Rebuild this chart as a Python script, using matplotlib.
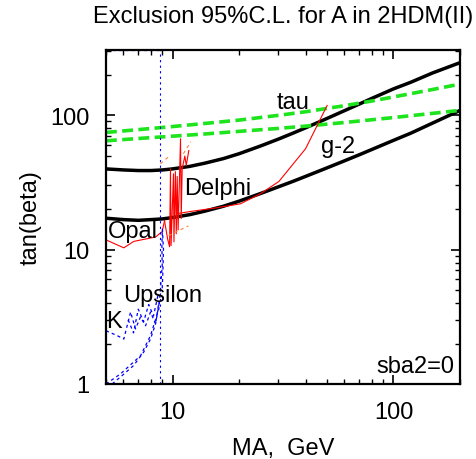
import matplotlib
matplotlib.use("Agg")
import matplotlib.pyplot as plt

plt.rcParams['font.family'] = ['Liberation Sans', 'DejaVu Sans']

# black limit curves
upper_x = [5, 6, 7, 8, 9, 10, 12, 14, 17, 20, 25, 30, 35, 40, 50, 60, 70, 80, 100, 120, 150, 200]
upper_y = [39.8, 39.1, 38.7, 38.7, 39.1, 39.8, 41.6, 43.9, 47.5, 51.6, 58.9, 66.1, 73.3, 80.4,
           94.4, 107.9, 120.8, 133.4, 156.7, 175.8, 205.6, 245.5]
lower_x = [5, 6, 7, 8, 9, 10, 12, 14, 17, 20, 25, 30, 35, 40, 50, 60, 70, 80, 100, 120, 150, 200]
lower_y = [17.1, 16.7, 16.5, 16.7, 16.9, 17.3, 18.2, 19.3, 21.0, 22.9, 26.1, 29.2, 32.1, 35.0,
           40.5, 45.7, 50.7, 55.6, 64.9, 73.5, 87.1, 108.4]

# green dashed (tau, g-2)
tau_x = [5, 7, 10, 14, 20, 30, 40, 60, 80, 100, 150, 200]
tau_y = [74.3, 78, 82.2, 86.7, 91.8, 99.5, 105.9, 117.5, 127.4, 136.5, 155, 170]
g2_x = [5, 7, 10, 14, 20, 30, 40, 60, 100, 150, 200]
g2_y = [64.4, 67, 69.7, 72.4, 75.7, 79.6, 82.8, 88.1, 95.9, 103, 108.4]

# Opal / Delphi (red)
opal_x = [5.06, 6.02, 6.68, 8.38, 8.98, 9.2]
opal_y = [11.7, 10.3, 11.5, 12.4, 13.6, 16.4]
spike_x = [9.2, 9.5, 9.7, 9.79, 9.85, 10.1, 10.15, 10.3, 10.4, 10.5, 10.6, 10.87, 10.95,
           11.06, 11.37, 11.54, 11.85]
spike_y = [16.4, 12.0, 10.5, 39.9, 10.7, 36.6, 11.4, 38, 13.1, 35, 14, 66.7, 17,
           40, 49.6, 42.3, 54.5]
delphi_x = [10.5, 12.06, 16, 20.3, 25, 30.3, 40, 50.1]
delphi_y = [18.5, 19.2, 20.5, 21.9, 26, 32.1, 56.2, 118]
orange1_x = [8.82, 9.6]
orange1_y = [43.5, 49]
orange2_x = [11.2, 12.1]
orange2_y = [51.6, 63.4]
orange3_x = [9.6, 11.8]
orange3_y = [12.7, 15.0]

# Upsilon / K (blue)
ups_a_x = [5.0, 5.82, 7.16, 7.95, 8.67, 8.82, 8.98, 8.95, 9.0, 9.1, 9.05, 8.98]
ups_a_y = [1.0, 1.19, 1.62, 2.29, 3.61, 5.09, 7.59, 11, 14.2, 10, 7, 5]
ups_b_x = [5.33, 5.82, 6.66, 7.41, 7.95, 8.38, 8.7]
ups_b_y = [1.0, 1.13, 1.37, 1.73, 2.16, 2.8, 4.0]
k1_x = [5.0, 5.62, 6.02, 6.46, 6.8, 7.16, 7.55, 7.95, 8.38, 8.67]
k1_y = [2.49, 2.29, 2.16, 3.43, 2.57, 3.15, 2.71, 3.43, 2.79, 4.07]
k2_x = [6.3, 6.66, 7.0, 7.4, 7.8, 8.2, 8.6]
k2_y = [3.0, 2.4, 3.6, 2.9, 3.9, 3.2, 4.6]
vline_x = 8.76
top_x = [5, 8.76]

fig = plt.figure(figsize=(4.77, 4.6), dpi=100)
ax = fig.add_axes([106/477, 75/460, 354/477, 334/460])
ax.set_xscale('log')
ax.set_yscale('log')
ax.set_xlim(5, 200)
ax.set_ylim(1, 305)

green = '#1de41d'
blue_dash = (0, (2.5, 2.5))
ax.plot(upper_x, upper_y, color='black', lw=2.5)
ax.plot(lower_x, lower_y, color='black', lw=2.5)
ax.plot(tau_x, tau_y, color=green, lw=2.6, dashes=(3, 1.5))
ax.plot(g2_x, g2_y, color=green, lw=2.6, dashes=(3, 1.5))

ax.plot(opal_x, opal_y, color='red', lw=0.8)
ax.plot(spike_x, spike_y, color='red', lw=0.8)
ax.plot(delphi_x, delphi_y, color='red', lw=0.8)
for ox, oy in [(orange1_x, orange1_y), (orange2_x, orange2_y), (orange3_x, orange3_y)]:
    ax.plot(ox, oy, color='#ff8040', lw=0.8, dashes=(3, 3))

for bx, by in [(ups_a_x, ups_a_y), (ups_b_x, ups_b_y), (k1_x, k1_y), (k2_x, k2_y)]:
    ax.plot(bx, by, color='blue', lw=0.9, linestyle=blue_dash)
ax.axvline(vline_x, color='blue', lw=0.8, linestyle=(0, (2, 3)))
ax.plot(top_x, [305, 305], color='blue', lw=0.9, linestyle=blue_dash, clip_on=False)

fs = 17
ax.text(35, 126, 'tau', fontsize=fs, ha='center', va='center')
ax.text(56, 59, 'g-2', fontsize=fs, ha='center', va='center')
ax.text(16, 28.8, 'Delphi', fontsize=fs, ha='center', va='center')
ax.text(6.6, 13.8, 'Opal', fontsize=fs, ha='center', va='center')
ax.text(9.0, 4.59, 'Upsilon', fontsize=fs, ha='center', va='center')
ax.text(5.41, 2.94, 'K', fontsize=fs, ha='center', va='center')
ax.text(125, 1.36, 'sba2=0', fontsize=fs, ha='center', va='center')

ax.set_title('Exclusion 95%C.L. for A in 2HDM(II)', fontsize=fs, pad=20)
ax.set_xlabel('MA,  GeV', fontsize=fs, labelpad=10)
ax.set_ylabel('tan(beta)', fontsize=fs, labelpad=6)

ax.set_xticks([10, 100])
ax.set_xticklabels(['10', '100'])
ax.set_yticks([1, 10, 100])
ax.set_yticklabels(['1', '10', '100'])
ax.tick_params(which='both', direction='in', top=True, right=True, labelsize=fs)
ax.tick_params(which='major', length=6.5, width=1.2, pad=12)
ax.tick_params(which='minor', length=3.3, width=1.0)
for s in ax.spines.values():
    s.set_linewidth(1.6)

fig.savefig('out.png', dpi=100)
